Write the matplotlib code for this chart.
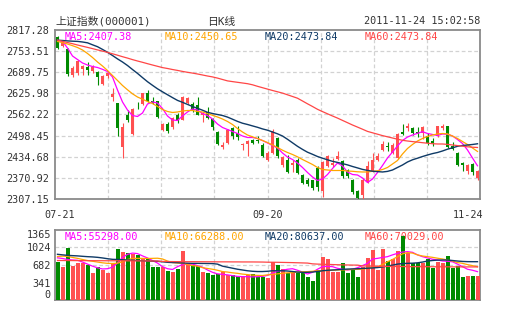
import numpy as np
import matplotlib.pyplot as plt
import matplotlib.transforms as mtransforms

plt.rcParams['font.family'] = ['DejaVu Sans Mono', 'Noto Sans CJK SC']

# daily candles, 2011-07-21 .. 2011-11-24
open_ = [2795, 2768, 2761, 2682, 2687, 2701, 2705, 2695, 2691, 2654,
         2679, 2615, 2597, 2464, 2562, 2503, 2589, 2594, 2627, 2602,
         2602, 2516, 2533, 2524, 2560, 2547, 2597, 2594, 2590, 2560,
         2570, 2549, 2509, 2465, 2476, 2521, 2506, 2469, 2474, 2484,
         2486, 2471, 2426, 2446, 2491, 2409, 2426, 2411, 2426, 2381,
         2366, 2363, 2401, 2330, 2408, 2411, 2429, 2421, 2396, 2366,
         2330, 2320, 2359, 2391, 2426, 2456, 2468, 2446, 2431, 2509,
         2522, 2520, 2509, 2506, 2496, 2481, 2496, 2522, 2527, 2466,
         2446, 2416, 2393, 2413, 2371]
high = [2800, 2785, 2763, 2708, 2728, 2713, 2721, 2711, 2693, 2682,
        2695, 2642, 2598, 2536, 2577, 2582, 2600, 2628, 2637, 2614,
        2604, 2536, 2540, 2555, 2568, 2617, 2614, 2600, 2615, 2570,
        2585, 2553, 2511, 2479, 2517, 2525, 2527, 2477, 2485, 2487,
        2498, 2475, 2451, 2517, 2495, 2436, 2441, 2426, 2431, 2383,
        2371, 2366, 2406, 2422, 2441, 2431, 2451, 2424, 2399, 2368,
        2333, 2371, 2422, 2446, 2446, 2481, 2478, 2476, 2506, 2534,
        2537, 2524, 2524, 2526, 2506, 2491, 2529, 2534, 2529, 2478,
        2449, 2418, 2413, 2416, 2395]
low = [2760, 2765, 2679, 2674, 2682, 2682, 2681, 2688, 2650, 2652,
       2672, 2602, 2496, 2431, 2540, 2501, 2580, 2592, 2600, 2594,
       2553, 2513, 2505, 2518, 2537, 2545, 2595, 2570, 2560, 2540,
       2548, 2516, 2470, 2458, 2472, 2488, 2485, 2455, 2436, 2473,
       2476, 2433, 2423, 2443, 2432, 2405, 2386, 2389, 2382, 2351,
       2345, 2335, 2330, 2312, 2405, 2405, 2424, 2372, 2372, 2323,
       2308, 2307.15, 2356, 2388, 2423, 2453, 2451, 2443, 2429, 2500,
       2511, 2501, 2493, 2489, 2471, 2466, 2494, 2516, 2460, 2456,
       2408, 2393, 2384, 2381, 2366]
close = [2764, 2778, 2684, 2702, 2725, 2710, 2698, 2705, 2676, 2679,
         2688, 2625, 2521, 2524, 2547, 2580, 2587, 2627, 2602, 2597,
         2556, 2533, 2513, 2552, 2542, 2614, 2612, 2574, 2562, 2567,
         2552, 2524, 2473, 2470, 2514, 2496, 2493, 2473, 2481, 2476,
         2481, 2436, 2446, 2511, 2436, 2433, 2389, 2415, 2386, 2356,
         2353, 2340, 2342, 2418, 2438, 2416, 2438, 2376, 2376, 2328,
         2310, 2366, 2407, 2426, 2436, 2473, 2464, 2469, 2503, 2503,
         2527, 2506, 2503, 2524, 2476, 2476, 2527, 2527, 2463, 2459,
         2411, 2411, 2411, 2389, 2393]

ma5 = [2786.5, 2783.2, 2762.9, 2738.8, 2728.2, 2717.7, 2711.6, 2707.1, 2704.1, 2698.6,
       2692.0, 2675.4, 2636.2, 2600.0, 2575.8, 2559.2, 2556.2, 2566.7, 2593.9, 2600.0,
       2596.9, 2580.3, 2557.7, 2545.6, 2544.1, 2557.7, 2569.8, 2578.8, 2575.8, 2565.2,
       2559.2, 2548.6, 2533.5, 2523.0, 2516.9, 2510.9, 2504.9, 2497.3, 2492.8, 2492.8,
       2489.8, 2483.7, 2476.2, 2468.6, 2461.1, 2446.0, 2433.9, 2426.4, 2415.8, 2402.3,
       2387.2, 2373.6, 2363.0, 2367.5, 2381.1, 2399.2, 2415.8, 2406.8, 2388.7, 2381.1,
       2379.6, 2370.5, 2356.9, 2367.5, 2387.2, 2408.3, 2430.9, 2449.0, 2467.1, 2483.7,
       2494.3, 2500.3, 2505.5, 2510.3, 2504.9, 2501.9, 2498.9, 2503.4, 2502.8, 2497.3,
       2486.8, 2474.7, 2455.1, 2430.9, 2407.38]
ma10 = [2782.6, 2779.3, 2775.0, 2769.9, 2764.5, 2756.9, 2746.4, 2734.3, 2720.7, 2708.6,
        2695.0, 2679.9, 2664.9, 2649.8, 2636.8, 2624.7, 2615.0, 2608.4, 2601.4, 2595.4,
        2586.4, 2577.3, 2571.3, 2568.3, 2569.8, 2572.8, 2574.3, 2574.3, 2571.3, 2569.8,
        2565.2, 2559.8, 2554.7, 2548.6, 2541.1, 2532.0, 2519.9, 2509.4, 2500.3, 2494.9,
        2489.8, 2483.7, 2477.7, 2470.2, 2462.6, 2454.5, 2447.5, 2441.5, 2434.5, 2426.4,
        2418.9, 2411.3, 2402.3, 2396.2, 2394.7, 2393.2, 2393.2, 2393.2, 2391.7, 2390.8,
        2389.3, 2388.7, 2388.7, 2390.8, 2392.3, 2396.2, 2402.3, 2412.8, 2423.4, 2443.0,
        2459.6, 2471.7, 2482.2, 2489.8, 2495.8, 2500.3, 2503.4, 2504.9, 2503.4, 2497.3,
        2489.8, 2480.7, 2471.7, 2461.1, 2450.65]
ma20 = [2786.5, 2785.6, 2784.4, 2783.5, 2782.9, 2781.1, 2778.6, 2772.6, 2766.9, 2758.7,
        2750.0, 2740.3, 2730.1, 2720.7, 2710.1, 2698.0, 2686.3, 2673.6, 2661.2, 2650.3,
        2639.8, 2630.7, 2621.9, 2613.2, 2604.8, 2599.0, 2592.7, 2586.4, 2580.9, 2575.2,
        2568.9, 2565.2, 2562.2, 2559.2, 2554.4, 2548.0, 2541.4, 2535.9, 2532.1, 2527.8,
        2523.6, 2518.7, 2514.8, 2509.4, 2503.9, 2497.3, 2487.4, 2476.8, 2466.2, 2456.9,
        2448.4, 2442.1, 2435.4, 2430.3, 2425.5, 2420.9, 2417.6, 2414.0, 2410.1, 2405.3,
        2401.0, 2396.5, 2393.5, 2391.1, 2389.9, 2388.7, 2390.5, 2394.7, 2402.3, 2409.8,
        2418.9, 2425.5, 2430.3, 2435.4, 2440.0, 2444.2, 2447.5, 2452.1, 2457.5, 2461.7,
        2466.2, 2468.6, 2470.1, 2471.7, 2473.84]
ma60 = [2786.8, 2783.2, 2779.5, 2775.9, 2772.0, 2768.4, 2764.8, 2761.1, 2757.2, 2753.6,
        2749.7, 2745.5, 2741.2, 2736.7, 2732.5, 2727.9, 2723.7, 2719.8, 2715.6, 2711.6,
        2707.7, 2703.8, 2701.1, 2698.0, 2695.3, 2692.3, 2689.6, 2687.2, 2684.5, 2681.5,
        2678.4, 2675.7, 2672.1, 2667.9, 2663.7, 2661.5, 2659.4, 2657.3, 2655.2, 2651.9,
        2647.3, 2643.1, 2638.9, 2634.7, 2630.8, 2626.8, 2621.7, 2616.6, 2611.4, 2603.0,
        2594.5, 2586.4, 2577.9, 2571.0, 2564.3, 2557.7, 2551.4, 2544.4, 2537.5, 2530.5,
        2524.2, 2517.8, 2511.2, 2507.0, 2502.8, 2498.5, 2494.9, 2491.3, 2487.7, 2484.3,
        2482.2, 2480.4, 2478.9, 2477.1, 2475.6, 2474.1, 2473.2, 2473.2, 2472.0, 2470.2,
        2468.4, 2466.6, 2464.7, 2463.5, 2462.6]

volume = [747, 650, 1020, 669, 728, 728, 683, 533, 650, 585,
          533, 728, 995, 942, 923, 891, 878, 800, 793, 650,
          650, 650, 572, 553, 611, 962, 715, 683, 669, 553,
          533, 488, 507, 553, 488, 488, 468, 468, 488, 507,
          440, 455, 430, 750, 683, 598, 533, 533, 533, 533,
          455, 377, 585, 832, 793, 553, 553, 715, 533, 585,
          455, 637, 812, 975, 585, 995, 761, 793, 955, 1248,
          923, 728, 728, 715, 793, 618, 741, 728, 858, 618,
          663, 455, 468, 468, 468]
vol_ma5 = [822, 810, 790, 780, 775, 740, 700, 660, 628, 605,
           610, 640, 720, 830, 890, 915, 905, 860, 820, 770,
           720, 650, 610, 595, 650, 690, 695, 700, 670, 640,
           585, 540, 510, 500, 490, 475, 460, 455, 455, 450,
           455, 460, 480, 520, 560, 580, 600, 610, 580, 545,
           507, 540, 600, 650, 655, 650, 618, 600, 585, 600,
           630, 670, 715, 800, 812, 830, 845, 880, 910, 935,
           943, 930, 880, 845, 820, 795, 780, 760, 755, 745,
           700, 650, 600, 580, 553]
vol_ma10 = [848, 855, 850, 830, 812, 790, 770, 755, 740, 725,
            715, 712, 718, 745, 790, 810, 812, 812, 810, 812,
            815, 800, 760, 730, 720, 715, 690, 670, 660, 630,
            615, 600, 580, 555, 545, 530, 520, 505, 495, 485,
            480, 478, 490, 500, 510, 520, 530, 533, 545, 550,
            553, 560, 570, 572, 575, 580, 585, 588, 592, 596,
            598, 600, 620, 640, 650, 690, 745, 790, 845, 900,
            923, 915, 880, 858, 845, 832, 815, 800, 780, 760,
            730, 715, 690, 670, 650]
vol_ma20 = [891, 880, 871, 865, 860, 852, 845, 840, 832, 820,
            805, 793, 790, 785, 780, 775, 770, 765, 760, 758,
            755, 745, 735, 730, 728, 722, 718, 715, 715, 713,
            712, 710, 700, 660, 640, 620, 600, 585, 570, 560,
            555, 555, 560, 570, 570, 570, 565, 555, 545, 540,
            540, 545, 555, 570, 580, 585, 590, 598, 603, 606,
            610, 615, 620, 625, 632, 645, 660, 680, 700, 710,
            715, 718, 725, 740, 760, 770, 778, 780, 780, 770,
            760, 752, 748, 747, 747]
vol_ma60 = [770, 770, 769, 769, 768, 768, 767, 767, 766, 766,
            765, 765, 765, 764, 764, 763, 763, 762, 762, 761,
            760, 752, 750, 749, 748, 748, 747, 747, 746, 746,
            745, 745, 744, 744, 744, 743, 743, 742, 742, 742,
            741, 740, 737, 736, 735, 733, 731, 729, 726, 723,
            720, 705, 700, 697, 694, 691, 688, 685, 683, 681,
            680, 665, 662, 660, 658, 656, 655, 654, 653, 652,
            651, 650, 650, 649, 649, 648, 648, 647, 647, 646,
            646, 645, 645, 645, 645]

date_labels = ['07-21', '09-20', '11-24']
date_idx = [0, 42, 84]
price_ticks = [2307.15, 2370.92, 2434.68, 2498.45, 2562.22, 2625.98, 2689.75, 2753.51, 2817.28]
vol_ticks = [0, 341, 682, 1024, 1365]

RED = '#ff5050'
GREEN = '#008a00'
C5, C10, C20, C60 = '#ff00ff', '#ffa500', '#0f3a66', '#ff4646'
GRID = '#d2d2d2'
FRAME = '#8a8a8a'
TXT = '#333333'

o = np.array(open_, dtype=float)
c = np.array(close, dtype=float)
x = np.arange(len(c))
cols = np.where(c >= o, RED, GREEN)

fig = plt.figure(figsize=(5.05, 3.3), dpi=100)
ax = fig.add_axes([55/505, 131/330, 425/505, 169/330])
axv = fig.add_axes([55/505, 30/330, 425/505, 70/330])

for a in (ax, axv):
    a.set_xlim(-0.5, len(c) - 0.5)
    for v in np.linspace(-0.5, len(c) - 0.5, 9)[1:-1]:
        a.axvline(v, color=GRID, lw=0.9, ls=(0, (3, 2)), zorder=1)
    for s in a.spines.values():
        s.set_color(FRAME)
        s.set_linewidth(1.3)

# price panel
ax.set_ylim(price_ticks[0], price_ticks[-1])
for t in price_ticks[1:-1]:
    ax.axhline(t, color=GRID, lw=0.9, ls=(0, (3, 2)), zorder=1)
ax.vlines(x, low, high, colors=cols, lw=0.8, zorder=3)
ax.bar(x, np.maximum(np.abs(c - o), 2.0), bottom=np.minimum(o, c),
       width=0.78, color=cols, zorder=4)
ax.plot(x, ma5, color=C5, lw=0.9, zorder=5)
ax.plot(x, ma10, color=C10, lw=0.9, zorder=5)
ax.plot(x, ma20, color=C20, lw=1.0, zorder=5)
ax.plot(x, ma60, color=C60, lw=0.9, zorder=5)

ax.set_yticks(price_ticks, ['%.2f' % t for t in price_ticks])
ax.set_xticks(date_idx, date_labels)
ax.tick_params(length=0, labelsize=7.3, labelcolor=TXT)
ax.tick_params(axis='y', pad=4)
ax.tick_params(axis='x', pad=8)
xl = ax.get_xticklabels()
xl[0].set_ha('left')
xl[0].set_transform(xl[0].get_transform() + mtransforms.ScaledTranslation(-0.13, 0, fig.dpi_scale_trans))
xl[2].set_ha('right')
xl[2].set_transform(xl[2].get_transform() + mtransforms.ScaledTranslation(0.055, 0, fig.dpi_scale_trans))

# volume panel
axv.set_ylim(0, 1365)
for t in vol_ticks[1:-1]:
    axv.axhline(t, color=GRID, lw=0.9, ls=(0, (3, 2)), zorder=1)
axv.bar(x, volume, width=0.8, color=cols, zorder=3)
axv.plot(x, vol_ma5, color=C5, lw=0.9, zorder=4)
axv.plot(x, vol_ma10, color=C10, lw=0.9, zorder=4)
axv.plot(x, vol_ma20, color=C20, lw=1.0, zorder=4)
axv.plot(x, vol_ma60, color=C60, lw=0.9, zorder=4)
axv.set_xticks([])
axv.set_yticks(vol_ticks, [str(t) for t in vol_ticks])
axv.tick_params(length=0, pad=3, labelsize=7.3, labelcolor=TXT)
yl = axv.get_yticklabels()
yl[0].set_va('bottom')
yl[-1].set_va('top')

# header texts
def px(xp, yp, s, color=TXT, ha='left', size=7.3):
    fig.text(xp / 505, 1 - yp / 330, s, color=color, ha=ha, va='center', fontsize=size)

px(55, 21.5, '上证指数(000001)', size=7.8)
px(207, 21.5, '日K线', size=7.8)
px(480, 21.5, '2011-11-24 15:02:58', ha='right')

# MA readouts sit inside each panel, under the bars
def readout(a, yp, items):
    for xp, s, col in items:
        a.text(xp / 505, 1 - yp / 330, s, color=col, ha='left', va='center',
               fontsize=7.3, transform=fig.transFigure, zorder=2)

readout(ax, 36.5, [(65, 'MA5:2407.38', C5), (165, 'MA10:2450.65', C10),
                   (265, 'MA20:2473.84', C20), (365, 'MA60:2473.84', C60)])
readout(axv, 236.5, [(65, 'MA5:55298.00', C5), (165, 'MA10:66288.00', C10),
                     (265, 'MA20:80637.00', C20), (365, 'MA60:70029.00', C60)])

fig.savefig('out.png', dpi=100)
